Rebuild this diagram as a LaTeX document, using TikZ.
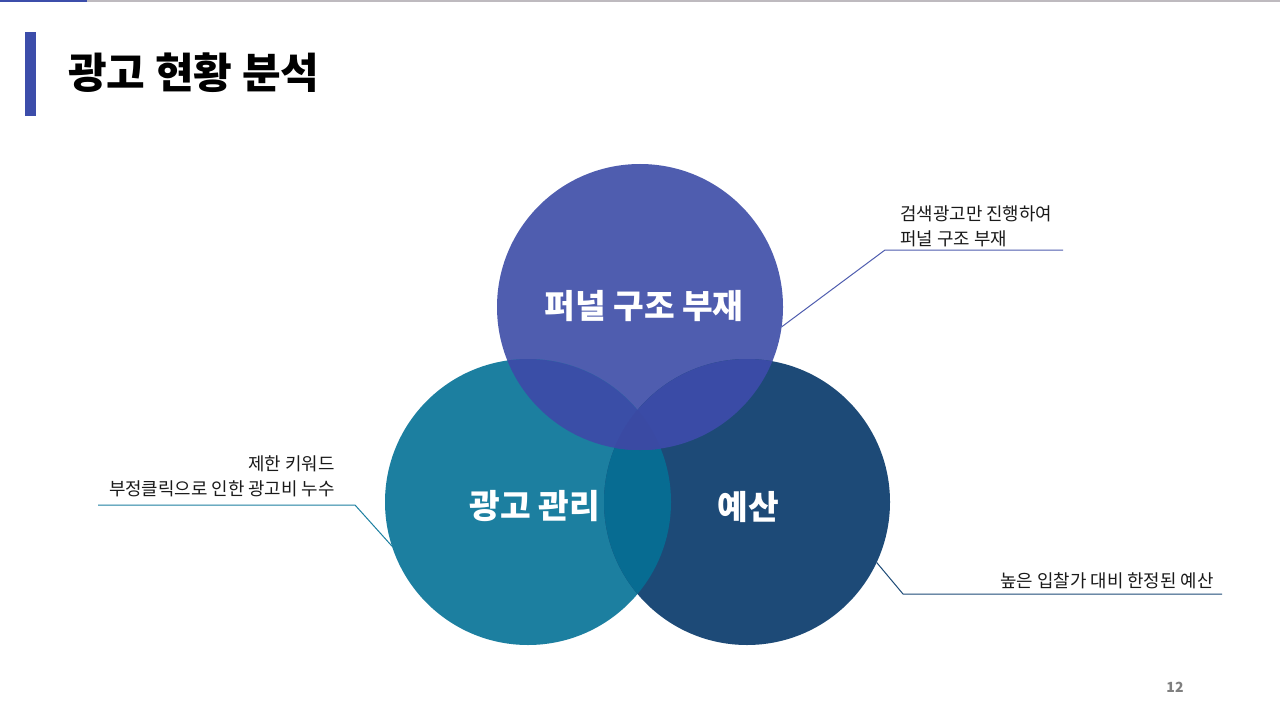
\documentclass[tikz,border=0pt]{standalone}
\usepackage{fontspec}
\newfontfamily\kr{Noto Sans CJK KR}
\definecolor{topc}{HTML}{4F5DAF}
\definecolor{leftc}{HTML}{1C7FA0}
\definecolor{rightc}{HTML}{1D4A77}
\definecolor{tlc}{HTML}{3A4EA7}
\definecolor{trc}{HTML}{3A4BA6}
\definecolor{tric}{HTML}{3A4AA3}
\definecolor{lrc}{HTML}{076C92}
\definecolor{barblue}{HTML}{3C4DAA}
\definecolor{linegray}{HTML}{BEBABF}
\definecolor{txt}{HTML}{1A1A1A}
\definecolor{pgray}{HTML}{7F7F7F}
\tikzset{
  venn/.style={circle, inner sep=0pt, outer sep=0pt, minimum size=214.5pt},
  vlabel/.style={text=white, font=\kr\bfseries\fontsize{25}{29}\selectfont},
  callout/.style={text=txt, font=\kr\fontsize{13.4}{19}\selectfont, inner sep=0pt},
  leader/.style={line width=0.75pt},
}
\begin{document}
\begin{tikzpicture}[x=0.75pt,y=-0.75pt]
\useasboundingbox (0,0) rectangle (1280,720);
\fill[white] (0,0) rectangle (1280,720);
% top rule
\fill[linegray] (0,0) rectangle (1280,2.5);
\fill[barblue] (0,0) rectangle (87,2.5);
% title
\fill[barblue] (25,32) rectangle (36,116);
\node[anchor=west, inner sep=0pt, text=black, font=\kr\bfseries\fontsize{31.5}{35}\selectfont] (title) at (68,73) {광고 현황 분석};
% circles
\node[venn, fill=topc] (T) at (640,307) {};
\node[venn, fill=leftc] (L) at (528,502) {};
\node[venn, fill=rightc] (R) at (747,502) {};
\begin{scope}
  \clip (528,502) circle (143);
  \fill[lrc] (747,502) circle (143);
\end{scope}
\begin{scope}
  \clip (528,502) circle (143);
  \fill[tlc] (640,307) circle (143);
\end{scope}
\begin{scope}
  \clip (747,502) circle (143);
  \fill[trc] (640,307) circle (143);
\end{scope}
\begin{scope}
  \clip (528,502) circle (143);
  \clip (747,502) circle (143);
  \fill[tric] (640,307) circle (143);
\end{scope}
% labels
\node[vlabel] (tl) at (644,306) {퍼널 구조 부재};
\node[vlabel] (ll) at (535,506) {광고 관리};
\node[vlabel] (rl) at (748,507) {예산};
% callouts
\node[callout, anchor=west, align=left] (c1) at (900,226) {검색광고만 진행하여\\퍼널 구조 부재};
\node[callout, anchor=east, align=right] (c2) at (335,476) {제한 키워드\\부정클릭으로 인한 광고비 누수};
\node[callout, anchor=east] (c3) at (1214,581) {높은 입찰가 대비 한정된 예산};
\coordinate (k1) at (885,250);
\coordinate (e1) at (1063,250);
\coordinate (k2) at (355,505);
\coordinate (e2) at (98,505);
\coordinate (k3) at (903,594);
\coordinate (e3) at (1222,594);
\draw[leader, topc] (T.-8) -- (k1) -- (e1);
\draw[leader, leftc] (L.198) -- (k2) -- (e2);
\draw[leader, rightc] (R.-25) -- (k3) -- (e3);
% page number
\node[text=pgray, font=\kr\bfseries\fontsize{10.5}{12}\selectfont] (pg) at (1175,687) {12};
\end{tikzpicture}
\end{document}
